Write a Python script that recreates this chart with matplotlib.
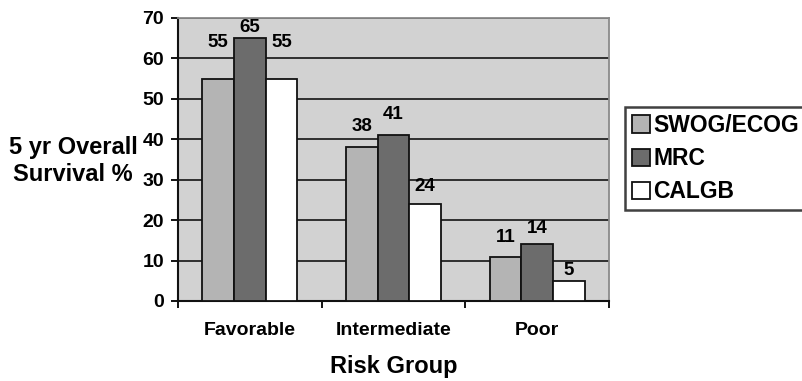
import numpy as np
import matplotlib
matplotlib.use('Agg')
import matplotlib.pyplot as plt

groups = ['Favorable', 'Intermediate', 'Poor']
series = ['SWOG/ECOG', 'MRC', 'CALGB']
swog = [55, 38, 11]
mrc = [65, 41, 14]
calgb = [55, 24, 5]


def main():
    plt.rcParams['font.family'] = ['Liberation Sans', 'DejaVu Sans']
    plt.rcParams['font.weight'] = 'bold'

    fig = plt.figure(figsize=(8.03, 3.81), dpi=100)
    ax = fig.add_axes([0.2217, 0.2100, 0.5367, 0.7428])
    ax.set_facecolor('#d2d2d2')

    x = np.arange(len(groups))
    w = 0.22
    colors = ['#b4b4b4', '#6c6c6c', '#ffffff']
    # label lift above each bar (data units), as placed in the original
    lifts = [[7.7, 4.0, 3.7], [1.5, 4.0, 2.7], [7.7, 3.2, 1.5]]
    for i, (vals, col, name) in enumerate(zip([swog, mrc, calgb], colors, series)):
        pos = x + (i - 1) * w
        bars = ax.bar(pos, vals, w, color=col, edgecolor='#111111', linewidth=1.3,
                      label=name, zorder=3)
        for b, v, lift in zip(bars, vals, lifts[i]):
            ax.text(b.get_x() + b.get_width() / 2, v + lift, str(v), ha='center',
                    va='baseline', fontsize=13.5, fontweight='bold')

    ax.set_xlim(-0.5, 2.5)
    ax.set_ylim(0, 70)
    ax.set_yticks(range(0, 71, 10))
    ax.yaxis.grid(True, color='#222222', linewidth=1.3, zorder=0)
    ax.set_axisbelow(True)

    ax.set_xticks([-0.5, 0.5, 1.5, 2.5])
    ax.set_xticklabels([])
    ax.set_xticks(x, minor=True)
    ax.set_xticklabels(groups, minor=True, fontsize=14, fontweight='bold')
    ax.tick_params(axis='x', which='minor', length=0, pad=15)
    ax.tick_params(axis='x', which='major', length=5, width=1.3, direction='out')
    ax.tick_params(axis='y', length=5, width=1.3, labelsize=14, pad=5)

    for s in ['top', 'right']:
        ax.spines[s].set_color('#8a8a8a')
        ax.spines[s].set_linewidth(1.3)
    for s in ['left', 'bottom']:
        ax.spines[s].set_color('#111111')
        ax.spines[s].set_linewidth(1.5)

    ax.set_xlabel('Risk Group', fontsize=17, fontweight='bold', labelpad=12)
    fig.text(0.091, 0.577, '5 yr Overall\nSurvival %', ha='center', va='center',
             fontsize=17, fontweight='bold', linespacing=1.25)

    leg = fig.legend(loc='upper left', bbox_to_anchor=(625 / 803, 1 - 107 / 381),
                     fontsize=16.5, frameon=True, fancybox=False, handlelength=0.78,
                     handleheight=0.78, handletextpad=0.15, labelspacing=0.45,
                     borderpad=0.3, borderaxespad=0)
    leg.get_frame().set_edgecolor('#111111')
    leg.get_frame().set_linewidth(1.8)
    for t in leg.get_texts():
        t.set_fontweight('bold')

    fig.savefig('out.png', dpi=100)


if __name__ == '__main__':
    main()
